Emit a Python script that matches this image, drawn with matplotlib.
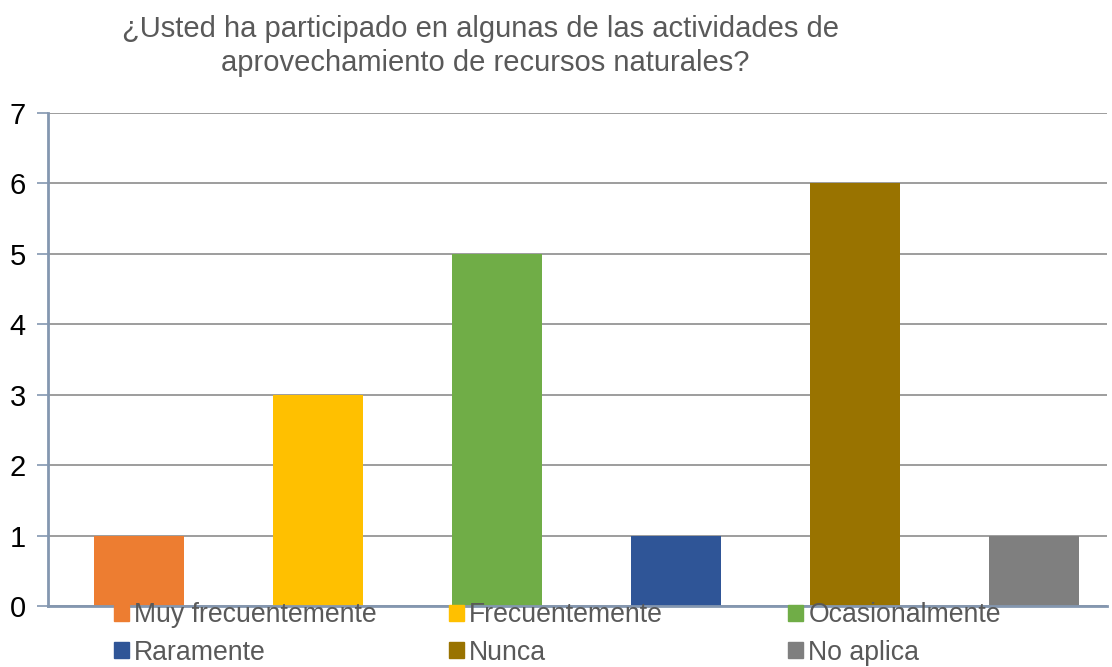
import matplotlib
matplotlib.use("Agg")
import matplotlib.pyplot as plt
from matplotlib.patches import Patch

# datos
categorias = ["Muy frecuentemente", "Frecuentemente", "Ocasionalmente",
              "Raramente", "Nunca", "No aplica"]
valores = [1, 3, 5, 1, 6, 1]
colores = ["#ED7D31", "#FFC000", "#70AD47", "#2F5597", "#997300", "#7F7F7F"]
titulo = "¿Usted ha participado en algunas de las actividades de \naprovechamiento de recursos naturales?"

plt.rcParams["font.family"] = ["Liberation Sans", "DejaVu Sans"]
gris = "#595959"

fig = plt.figure(figsize=(11.12, 6.67), dpi=100)
ax = fig.add_axes([0.0432, 0.0915, 0.9523, 0.7391])

x = range(len(categorias))
ax.bar(x, valores, width=0.503, color=colores, zorder=3)
ax.set_xlim(-0.51, 5.41)
ax.set_ylim(0, 7)
ax.set_yticks(range(0, 8))
ax.set_xticks([])
ax.yaxis.grid(True, color="#8c8c8c", linewidth=1.2, zorder=0)
ax.tick_params(axis="y", length=8, width=1.2, color="#8497B0", labelsize=21,
               labelcolor="black", pad=8)
for s in ["top", "right"]:
    ax.spines[s].set_visible(False)
for s in ["left", "bottom"]:
    ax.spines[s].set_color("#8497B0")
    ax.spines[s].set_linewidth(2)
    ax.spines[s].set_zorder(4)

fig.text(0.436, 0.978, titulo, ha="center", va="top", fontsize=21,
         color=gris, linespacing=1.3)

# leyenda en tres columnas
xs = [0.1025, 0.404, 0.709]
for i in range(3):
    idx = [i, i + 3]
    handles = [Patch(color=colores[j]) for j in idx]
    leg = fig.legend(handles, [categorias[j] for j in idx], loc="upper left",
                     bbox_to_anchor=(xs[i], 0.097), frameon=False, fontsize=19.2,
                     handlelength=0.55, handleheight=0.55, handletextpad=0.2,
                     labelspacing=0.42, borderpad=0, borderaxespad=0)
    for t in leg.get_texts():
        t.set_color(gris)

fig.savefig("out.png", dpi=100)
